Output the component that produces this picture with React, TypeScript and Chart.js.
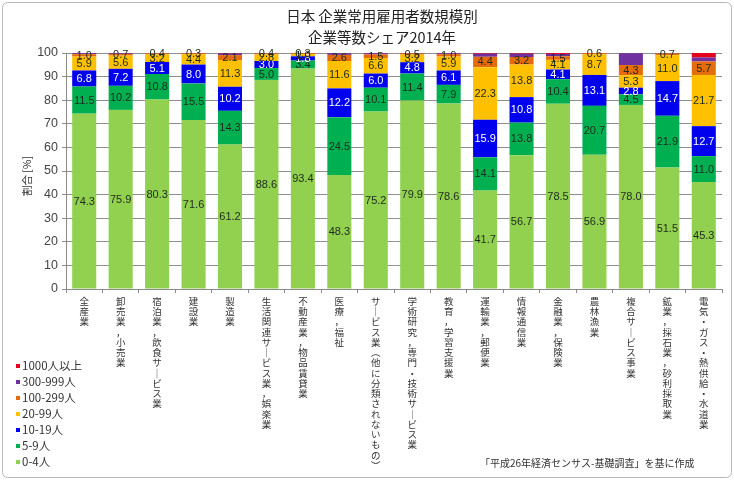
import React, { useEffect, useRef } from "react";
import { Chart, registerables } from "chart.js";

Chart.register(...registerables);

const titleLines = ["日本 企業常用雇用者数規模別", "企業等数シェア2014年"];
const yAxisTitle = "割合 [%]";
const sourceNote = "「平成26年経済センサス-基礎調査」を基に作成";

const categories = [
  "全産業",
  "卸売業，小売業",
  "宿泊業，飲食サービス業",
  "建設業",
  "製造業",
  "生活関連サービス業，娯楽業",
  "不動産業，物品賃貸業",
  "医療，福祉",
  "サービス業（他に分類されないもの）",
  "学術研究，専門・技術サービス業",
  "教育，学習支援業",
  "運輸業，郵便業",
  "情報通信業",
  "金融業，保険業",
  "農林漁業",
  "複合サービス事業",
  "鉱業，採石業，砂利採取業",
  "電気・ガス・熱供給・水道業",
];

const seriesNames = ["0-4人", "5-9人", "10-19人", "20-99人", "100-299人", "300-999人", "1000人以上"];
const seriesColors = ["#92D050", "#00B050", "#0000EE", "#FFC000", "#E46C0A", "#7030A0", "#E5001E"];

const v0_4 = [74.3, 75.9, 80.3, 71.6, 61.2, 88.6, 93.4, 48.3, 75.2, 79.9, 78.6, 41.7, 56.7, 78.5, 56.9, 78.0, 51.5, 45.3];
const v5_9 = [11.5, 10.2, 10.8, 15.5, 14.3, 5.0, 3.4, 24.5, 10.1, 11.4, 7.9, 14.1, 13.8, 10.4, 20.7, 4.5, 21.9, 11.0];
const v10_19 = [6.8, 7.2, 5.1, 8.0, 10.2, 3.0, 1.8, 12.2, 6.0, 4.8, 6.1, 15.9, 10.8, 4.1, 13.1, 2.8, 14.7, 12.7];
const v20_99 = [5.9, 5.6, 3.2, 4.4, 11.3, 2.8, 1.0, 11.6, 6.6, 3.2, 5.9, 22.3, 13.8, 4.1, 8.7, 5.3, 11.0, 21.7];
const v100_299 = [1.0, 0.7, 0.4, 0.3, 2.1, 0.4, 0.3, 2.6, 1.5, 0.5, 1.0, 4.4, 3.2, 1.5, 0.6, 4.3, 0.7, 5.7];
const v300_999 = [0.4, 0.3, 0.1, 0.1, 0.7, 0.1, 0.1, 0.7, 0.5, 0.1, 0.4, 1.3, 1.4, 1.0, 0.0, 5.0, 0.2, 1.7];
const v1000 = [0.1, 0.1, 0.1, 0.1, 0.2, 0.1, 0.0, 0.1, 0.1, 0.1, 0.1, 0.3, 0.3, 0.4, 0.0, 0.1, 0.0, 1.9];

const seriesValues = [v0_4, v5_9, v10_19, v20_99, v100_299, v300_999, v1000];
const yTicks = [0, 10, 20, 30, 40, 50, 60, 70, 80, 90, 100];

const JP = '"Noto Sans CJK JP", "Noto Sans", sans-serif';
const NUM = '"Liberation Sans", Arial, sans-serif';

const verticalMap: Record<string, string> = { "ー": "｜", "（": "︵", "）": "︶" };
const toVertical = (s: string) => Array.from(s).map((c) => verticalMap[c] || c);

const decorPlugin = {
  id: "decor",
  beforeDraw(chart: any) {
    const ctx = chart.ctx;
    ctx.save();
    ctx.fillStyle = "#ffffff";
    ctx.fillRect(0, 0, chart.width, chart.height);
    ctx.strokeStyle = "#b8b8b8";
    ctx.lineWidth = 1;
    const x = 2.5, y = 2.5, w = chart.width - 5, h = chart.height - 5, r = 5;
    ctx.beginPath();
    ctx.moveTo(x + r, y);
    ctx.arcTo(x + w, y, x + w, y + h, r);
    ctx.arcTo(x + w, y + h, x, y + h, r);
    ctx.arcTo(x, y + h, x, y, r);
    ctx.arcTo(x, y, x + w, y, r);
    ctx.closePath();
    ctx.stroke();
    ctx.restore();
  },
  afterDatasetsDraw(chart: any) {
    const ctx = chart.ctx;
    ctx.save();
    ctx.font = `11px ${NUM}`;
    ctx.textAlign = "center";
    ctx.textBaseline = "middle";
    for (let d = 0; d <= 4; d++) {
      const meta = chart.getDatasetMeta(d);
      const data = chart.data.datasets[d].data as number[];
      meta.data.forEach((el: any, i: number) => {
        const { x, y, base } = el.getProps(["x", "y", "base"], true);
        ctx.fillStyle = d === 2 ? "#ffffff" : "#1e2a1e";
        ctx.fillText(data[i].toFixed(1), x, (y + base) / 2 + 0.5);
      });
    }
    ctx.restore();
  },
  afterDraw(chart: any) {
    const ctx = chart.ctx;
    ctx.save();
    // title
    ctx.fillStyle = "#222";
    ctx.textAlign = "center";
    ctx.textBaseline = "middle";
    ctx.font = `14.5px ${JP}`;
    ctx.fillText(titleLines[0], 382, 16);
    ctx.fillText(titleLines[1], 382, 37);
    // y axis title
    ctx.save();
    ctx.translate(27, 176);
    ctx.rotate(-Math.PI / 2);
    ctx.font = `10.5px ${JP}`;
    ctx.fillStyle = "#333";
    ctx.fillText(yAxisTitle, 0, 0);
    ctx.restore();
    // legend
    ctx.textAlign = "left";
    ctx.font = `11.5px ${JP}`;
    const n = chart.data.datasets.length;
    for (let k = n - 1; k >= 0; k--) {
      const ds = chart.data.datasets[k];
      const yy = 366 + (n - 1 - k) * 16;
      ctx.fillStyle = ds.backgroundColor;
      ctx.fillRect(16, yy - 2, 4, 4);
      ctx.fillStyle = "#333";
      ctx.fillText(ds.label, 22, yy);
    }
    // source note
    ctx.font = `10px ${JP}`;
    ctx.fillStyle = "#333";
    ctx.fillText(sourceNote, 480, 463);
    ctx.restore();
  },
};

export default function App() {
  const ref = useRef<HTMLCanvasElement | null>(null);

  useEffect(() => {
    if (!ref.current) return;
    const chart = new Chart(ref.current, {
      type: "bar",
      data: {
        labels: categories.map(toVertical),
        datasets: seriesNames.map((name, k) => ({
          label: name,
          data: seriesValues[k],
          backgroundColor: seriesColors[k],
          borderWidth: 0,
          categoryPercentage: 1,
          barPercentage: 0.66,
        })),
      },
      options: {
        responsive: false,
        animation: false,
        layout: { padding: { top: 53, left: 0, right: 12, bottom: 0 } },
        plugins: {
          legend: { display: false },
          title: { display: false },
          tooltip: { enabled: false },
        },
        scales: {
          x: {
            stacked: true,
            afterFit(scale: any) {
              scale.height = 191;
            },
            border: { display: true, color: "#8a8a8a" },
            grid: {
              display: true,
              offset: true,
              drawOnChartArea: false,
              drawTicks: true,
              tickLength: 4,
              color: "#8a8a8a",
            },
            ticks: {
              autoSkip: false,
              maxRotation: 0,
              minRotation: 0,
              padding: 3,
              color: "#333",
              font: { family: JP, size: 9.5, lineHeight: 1.08 },
            },
          },
          y: {
            stacked: true,
            min: 0,
            max: 100,
            afterFit(scale: any) {
              scale.width = 66;
            },
            afterBuildTicks(scale: any) {
              scale.ticks = yTicks.map((v) => ({ value: v }));
            },
            border: { display: true, color: "#8a8a8a" },
            grid: {
              color: "#8f8f8f",
              tickLength: 4,
            },
            ticks: {
              padding: 4,
              color: "#444",
              font: { family: NUM, size: 12.5 },
            },
          },
        },
      },
      plugins: [decorPlugin],
    });
    return () => chart.destroy();
  }, []);

  return (
    <div style={{ position: "absolute", left: 0, top: 0, width: 734, height: 480, background: "#fff" }}>
      <canvas ref={ref} width={734} height={480} style={{ display: "block" }} />
    </div>
  );
}
